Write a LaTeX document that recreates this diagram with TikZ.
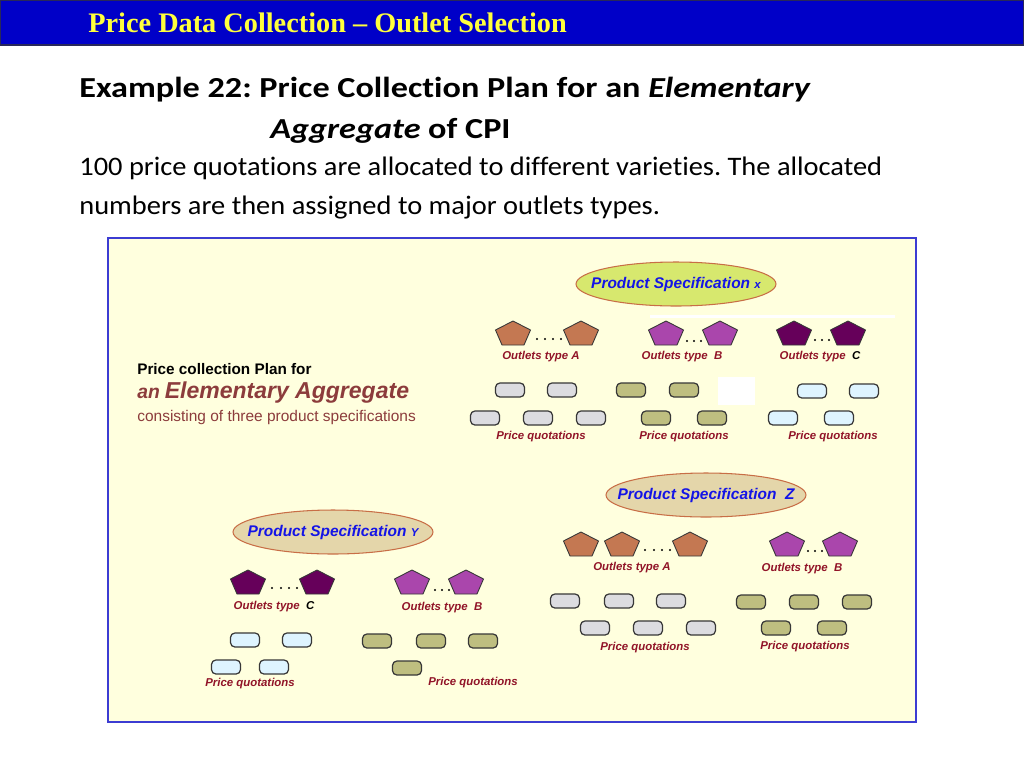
\documentclass[tikz,border=0pt]{standalone}
\usepackage{fontspec}
\setmainfont{Liberation Sans}
\newfontfamily\slidetitlefont{Liberation Serif}
\newfontfamily\headfont[FakeStretch=1.18, Ligatures=NoCommon]{Carlito}
\newfontfamily\bodyfont[FakeStretch=1.065, Ligatures=NoCommon]{Carlito}
\usepackage{tikz}
\usetikzlibrary{shapes.geometric}
\frenchspacing

\definecolor{barblue}{RGB}{0,0,200}
\definecolor{barline}{RGB}{40,40,90}
\definecolor{titleyellow}{RGB}{255,255,60}
\definecolor{panelfill}{RGB}{255,255,222}
\definecolor{panelline}{RGB}{60,60,210}
\definecolor{specblue}{RGB}{20,20,230}
\definecolor{specgreen}{RGB}{215,232,110}
\definecolor{spectan}{RGB}{228,214,170}
\definecolor{specline}{RGB}{200,110,70}
\definecolor{labelred}{RGB}{145,20,40}
\definecolor{planbrown}{RGB}{140,60,60}
\definecolor{outletA}{RGB}{196,120,82}
\definecolor{outletB}{RGB}{170,70,172}
\definecolor{outletC}{RGB}{102,0,90}
\definecolor{quoteGray}{RGB}{220,220,224}
\definecolor{quoteOlive}{RGB}{190,190,128}
\definecolor{quoteCyan}{RGB}{222,244,255}
\definecolor{boxline}{RGB}{55,55,55}

\tikzset{
  spec/.style={ellipse, draw=specline, line width=0.6pt, minimum width=4cm, minimum height=0.88cm, inner sep=0pt},
  spectext/.style={text=specblue, inner sep=0pt, font=\bfseries\itshape\fontsize{8.8}{10}\selectfont},
  lbl/.style={text=labelred, font=\bfseries\itshape\fontsize{6.5}{8}\selectfont, inner sep=0pt},
  qbox/.style={draw=boxline, line width=0.7pt, rounded corners=2.5pt, minimum width=0.58cm,
    minimum height=0.28cm, inner sep=0pt},
  gbox/.style={qbox, fill=quoteGray},
  obox/.style={qbox, fill=quoteOlive},
  cbox/.style={qbox, fill=quoteCyan},
  pent/.pic={\filldraw[draw=boxline, line width=0.5pt, fill=#1]
    (0,-12) -- (17.5,-3) -- (11,12) -- (-11,12) -- (-17.5,-3) -- cycle;}
}

\begin{document}
\begin{tikzpicture}[x=0.02cm, y=-0.02cm]
    \useasboundingbox (0,0) rectangle (1024,768);
    \fill[white] (0,0) rectangle (1024,768);

    % Title bar
    \filldraw[fill=barblue, draw=barline, line width=0.8pt] (0,0) rectangle (1024,45);
    \node[anchor=base west, inner sep=0pt, text=titleyellow, font=\slidetitlefont\bfseries\fontsize{16.1}{18}\selectfont]
      (title) at (88,32) {Price Data Collection \textendash{} Outlet Selection};

    % Heading and text
    \node[anchor=base west, inner sep=0pt, font=\headfont\bfseries\fontsize{16.5}{19}\selectfont]
      (head1) at (79,97) {Example 22: Price Collection Plan for an \textit{Elementary}};
    \node[anchor=base west, inner sep=0pt, font=\headfont\bfseries\fontsize{16.5}{19}\selectfont]
      (head2) at (270,138) {\textit{Aggregate} of CPI};
    \node[anchor=base west, inner sep=0pt, font=\bodyfont\fontsize{15.2}{17}\selectfont]
      (body1) at (79,175) {100 price quotations are allocated to different varieties. The allocated};
    \node[anchor=base west, inner sep=0pt, font=\bodyfont\fontsize{15.2}{17}\selectfont]
      (body2) at (79,214) {numbers are then assigned to major outlets types.};

    % Panel
    \filldraw[fill=panelfill, draw=panelline, line width=0.9pt] (108,238) rectangle (916,722);
    \fill[white] (650,315) rectangle (895,318);
    \fill[white] (718,377) rectangle (755,405);

    % Plan text
    \node[anchor=base west, inner sep=0pt, font=\bfseries\fontsize{8.7}{10}\selectfont]
      (plan1) at (137,374) {Price collection Plan for};
    \node[anchor=base west, inner sep=0pt, text=planbrown, font=\bfseries\itshape]
      (plan2) at (137,398) {{\fontsize{11}{12}\selectfont an} {\fontsize{13.1}{15}\selectfont Elementary Aggregate}};
    \node[anchor=base west, inner sep=0pt, text=planbrown, font=\fontsize{8.8}{10}\selectfont]
      (plan3) at (137,421) {consisting of three product specifications};

    % Product specification X
    \node[spec, fill=specgreen, label={[spectext]center:Product Specification {\fontsize{6.5}{7}\selectfont x}}] (specX) at (676,284) {};
    \pic at (513,333) {pent=outletA};
    \pic at (581,333) {pent=outletA};
    \pic at (666,333) {pent=outletB};
    \pic at (720,333) {pent=outletB};
    \pic at (794,333) {pent=outletC};
    \pic at (848,333) {pent=outletC};
    \foreach \x/\y in {537/339, 545/339, 553/339, 561/339, 687/341, 694/341, 701/341, 815/340, 822/340, 829/340}
      \fill (\x,\y) circle (1.1);
    \node[lbl] (outXA) at (541,357) {Outlets type A};
    \node[lbl] (outXB) at (682,357) {Outlets type \ B};
    \node[lbl] (outXC) at (820,357) {Outlets type \ \textcolor{black}{C}};
    \foreach \x/\y in {510/390, 562/390, 485/418, 538/418, 591/418}
      \node[gbox] at (\x,\y) {};
    \foreach \x/\y in {631/390, 684/390, 656/418, 712/418}
      \node[obox] at (\x,\y) {};
    \foreach \x/\y in {812/391, 864/391, 783/418, 839/418}
      \node[cbox] at (\x,\y) {};
    \node[lbl] (quoXA) at (541,437) {Price quotations};
    \node[lbl] (quoXB) at (684,437) {Price quotations};
    \node[lbl] (quoXC) at (833,437) {Price quotations};

    % Product specification Z
    \node[spec, fill=spectan, label={[spectext]center:Product Specification\ \ Z}] (specZ) at (706,495) {};
    \pic at (581,544) {pent=outletA};
    \pic at (622,544) {pent=outletA};
    \pic at (690,544) {pent=outletA};
    \pic at (787,544) {pent=outletB};
    \pic at (840,544) {pent=outletB};
    \foreach \x/\y in {645/550, 654/550, 662/550, 670/550, 808/551, 815/551, 822/551}
      \fill (\x,\y) circle (1.1);
    \node[lbl] (outZA) at (632,568) {Outlets type A};
    \node[lbl] (outZB) at (802,569) {Outlets type \ B};
    \foreach \x/\y in {565/601, 619/601, 671/601, 595/628, 648/628, 701/628}
      \node[gbox] at (\x,\y) {};
    \foreach \x/\y in {751/602, 804/602, 857/602, 776/628, 832/628}
      \node[obox] at (\x,\y) {};
    \node[lbl] (quoZA) at (645,648) {Price quotations};
    \node[lbl] (quoZB) at (805,647) {Price quotations};

    % Product specification Y
    \node[spec, fill=spectan, label={[spectext]center:Product Specification {\fontsize{6.5}{7}\selectfont Y}}] (specY) at (333,532) {};
    \pic at (248,582) {pent=outletC};
    \pic at (317,582) {pent=outletC};
    \pic at (412,582) {pent=outletB};
    \pic at (466,582) {pent=outletB};
    \foreach \x/\y in {272/588, 281/588, 289/588, 297/588, 435/590, 442/590, 449/590}
      \fill (\x,\y) circle (1.1);
    \node[lbl] (outYC) at (274,607) {Outlets type \ \textcolor{black}{C}};
    \node[lbl] (outYB) at (442,608) {Outlets type \ B};
    \foreach \x/\y in {245/640, 297/640, 226/667, 274/667}
      \node[cbox] at (\x,\y) {};
    \foreach \x/\y in {377/641, 431/641, 483/641, 407/668}
      \node[obox] at (\x,\y) {};
    \node[lbl] (quoYC) at (250,684) {Price quotations};
    \node[lbl] (quoYB) at (473,683) {Price quotations};
  \end{tikzpicture}
\end{document}
